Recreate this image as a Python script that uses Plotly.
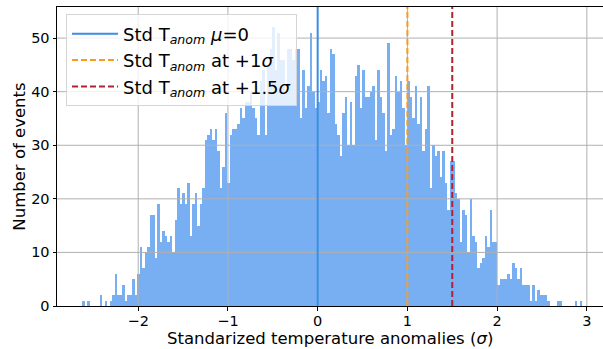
import numpy as np
import plotly.graph_objects as go

# ---- data ----
bin_start = -2.624
bin_width = 0.02787
counts = [
    1, 0, 1, 0, 0, 0, 0, 2, 0, 1,
    0, 1, 2, 6, 2, 2, 4, 1, 2, 2,
    5, 2, 6, 11, 7, 10, 11, 17, 17, 9,
    19, 12, 14, 13, 12, 13, 10, 16, 22, 19,
    21, 19, 23, 13, 19, 21, 15, 19, 22, 31,
    32, 33, 31, 33, 29, 22, 26, 36, 23, 32,
    33, 33, 34, 37, 35, 38, 38, 40, 37, 35,
    32, 42, 44, 32, 45, 48, 52, 44, 51, 46,
    46, 40, 48, 48, 46, 48, 48, 35, 44, 37,
    41, 51, 40, 37, 38, 44, 42, 43, 36, 48,
    47, 34, 32, 28, 36, 39, 30, 38, 30, 43,
    45, 37, 44, 39, 39, 40, 41, 31, 44, 39,
    36, 29, 49, 32, 33, 43, 40, 42, 37, 30,
    42, 39, 35, 41, 34, 39, 29, 33, 41, 22,
    30, 28, 29, 24, 29, 23, 18, 27, 27, 21,
    20, 12, 18, 17, 10, 20, 13, 12, 7, 8,
    9, 13, 11, 18, 12, 12, 4, 5, 5, 5,
    6, 5, 8, 7, 5, 7, 4, 4, 4, 1,
    4, 1, 3, 2, 2, 2, 1, 0, 0, 0,
    1, 1, 0, 0, 0, 0, 0, 1, 0, 1,
]
ref_values = [0.0, 1.0, 1.5]
ref_names = ["Std T<sub><i>anom</i></sub> <i>μ</i>=0",
             "Std T<sub><i>anom</i></sub> at +1<i>σ</i>",
             "Std T<sub><i>anom</i></sub> at +1.5<i>σ</i>"]
ref_colors = ["#3a8ee6", "#f99b1c", "#b22234"]
ref_dash = ["solid", "6px,3px", "6px,3px"]
x_ticks = [-2, -1, 0, 1, 2, 3]
y_ticks = [0, 10, 20, 30, 40, 50]
x_title = "Standarized temperature anomalies (<i>σ</i>)"
y_title = "Number of events"

X_RANGE = [-2.905, 3.18]
Y_RANGE = [0, 55.8]
H, T, B = 349, 7, 43

centers = bin_start + bin_width * (np.arange(len(counts)) + 0.5)

fig = go.Figure()
fig.add_trace(go.Bar(x=centers, y=counts, width=bin_width,
                     marker=dict(color="#78aff2", line=dict(width=0)),
                     showlegend=False, hoverinfo="skip"))

shapes = []
grid_col = "#b0b0b0"
for t in x_ticks:
    shapes.append(dict(type="line", xref="x", yref="paper", x0=t, x1=t, y0=0, y1=1,
                       line=dict(color=grid_col, width=1), layer="above"))
for t in y_ticks[1:]:
    shapes.append(dict(type="line", xref="paper", yref="y", x0=0, x1=1, y0=t, y1=t,
                       line=dict(color=grid_col, width=1), layer="above"))
for i, (v, n, c, d) in enumerate(zip(ref_values, ref_names, ref_colors, ref_dash)):
    shapes.append(dict(type="line", xref="x", yref="paper", x0=v, x1=v, y0=0, y1=1,
                       line=dict(color=c, width=2, dash=d), layer="above",
                       showlegend=True, name=n, legendrank=i + 1,
                       legendgroup="g%d" % i))
fig.update_layout(shapes=shapes)

plot_h = H - T - B
fig.add_annotation(text=x_title, xref="paper", yref="paper", x=0.5,
                   y=-B / plot_h, yanchor="bottom", xanchor="center",
                   showarrow=False, font=dict(size=16.5), borderpad=0)

fig.update_layout(
    width=603, height=H,
    margin=dict(l=57, r=0, t=T, b=B),
    plot_bgcolor="white", paper_bgcolor="white",
    bargap=0,
    font=dict(family="DejaVu Sans", size=14.5, color="black"),
    legend=dict(x=0.0165, y=0.975, xanchor="left", yanchor="top",
                bgcolor="rgba(255,255,255,0.8)", bordercolor="#d5d5d5", borderwidth=1,
                font=dict(size=18, family="DejaVu Sans"),
                traceorder="grouped", tracegroupgap=0,
                itemwidth=46),
    xaxis=dict(range=X_RANGE, tickvals=x_ticks, showgrid=False, zeroline=False,
               showline=True, linecolor="black", linewidth=1, mirror=True,
               ticks="outside", ticklen=3.5, tickcolor="black", automargin=False,
               ticklabelstandoff=-2),
    yaxis=dict(range=Y_RANGE, tickvals=y_ticks, showgrid=False, zeroline=False,
               showline=True, linecolor="black", linewidth=1,
               ticks="outside", ticklen=3.5, tickcolor="black", automargin=False,
               title=dict(text=y_title, font=dict(size=16.5), standoff=1)),
)

fig.write_html("out.html", config={"displayModeBar": False},
               post_script="document.body.style.margin='0';")
